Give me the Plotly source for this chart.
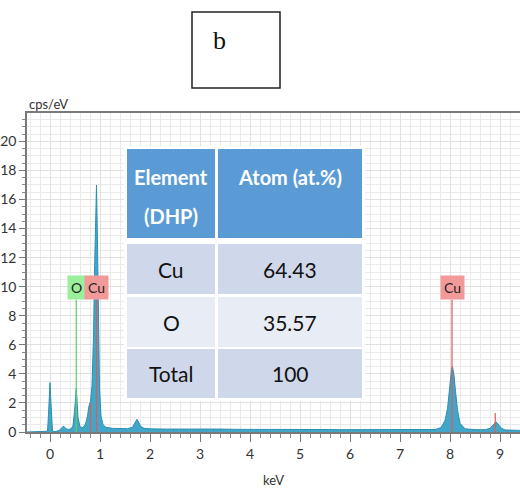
import plotly.graph_objects as go

# EDS spectrum (energy in keV, intensity in cps/eV)
energy_kev = [
    -0.46, -0.10, -0.05, -0.03, -0.01, 0.00, 0.01, 0.03, 0.05, 0.10,
    0.18, 0.24, 0.27, 0.30, 0.35, 0.42, 0.46, 0.49, 0.51, 0.525, 0.54,
    0.56, 0.60, 0.66, 0.71, 0.75, 0.78, 0.81, 0.84, 0.87, 0.89, 0.91,
    0.93, 0.95, 0.97, 0.99, 1.02, 1.06, 1.12, 1.25, 1.40, 1.55, 1.65,
    1.69, 1.72, 1.74, 1.77, 1.81, 1.88, 2.0, 2.3, 2.6, 3.0, 3.4, 3.8,
    4.2, 4.6, 5.0, 5.4, 5.8, 6.2, 6.6, 7.0, 7.4, 7.7, 7.82, 7.90, 7.95,
    7.99, 8.03, 8.05, 8.08, 8.11, 8.15, 8.20, 8.30, 8.50, 8.70, 8.80,
    8.85, 8.89, 8.92, 8.96, 9.02, 9.10, 9.25, 9.40,
]
counts_cps = [
    0.0, 0.0, 0.05, 1.2, 2.8, 3.4, 2.6, 1.0, 0.06, 0.02,
    0.10, 0.30, 0.42, 0.28, 0.18, 0.20, 0.45, 1.4, 2.4, 3.0, 2.2,
    1.0, 0.35, 0.30, 0.55, 1.1, 1.8, 2.1, 3.2, 6.5, 11.0, 15.5,
    17.0, 13.0, 7.0, 3.0, 1.1, 0.5, 0.32, 0.25, 0.24, 0.23, 0.32,
    0.55, 0.80, 0.88, 0.70, 0.40, 0.25, 0.22, 0.20, 0.21, 0.19, 0.20, 0.18,
    0.19, 0.17, 0.18, 0.17, 0.16, 0.17, 0.16, 0.16, 0.16, 0.17, 0.30, 0.80, 1.6,
    3.0, 4.3, 4.5, 3.9, 2.8, 1.5, 0.6, 0.22, 0.16, 0.16, 0.25,
    0.45, 0.65, 0.70, 0.55, 0.28, 0.14, 0.12, 0.11,
]

# Element marker lines
marker_energy = [0.525, 0.811, 0.930, 8.040, 8.905]
marker_top = [9.1, 2.0, 9.1, 9.1, 1.3]
marker_element = ["O", "Cu", "Cu", "Cu", "Cu"]
marker_labelled = [True, False, True, True, False]

# Composition table
table_header = ["Element<br>(DHP)", "Atom (at.%)"]
table_elements = ["Cu", "O", "Total"]
table_atoms = ["64.43", "35.57", "100"]

W, H = 520, 489
FONT = "Lato, Open Sans, sans-serif"

element_colors = {"O": ("#5fcf5f", "#9aef9a"), "Cu": ("#e05a5a", "#f29a9a")}


def px(x):
    return x / W


def py(y):
    return 1 - y / H


fig = go.Figure()

fig.add_trace(go.Scatter(
    x=energy_kev, y=counts_cps, mode="lines",
    line=dict(color="#2b8fb3", width=1),
    fill="tozeroy", fillcolor="#42a6c8",
    hoverinfo="skip", showlegend=False,
))

shapes = []
annotations = []
for e, top, el, lab in zip(marker_energy, marker_top, marker_element, marker_labelled):
    line_col, box_col = element_colors[el]
    shapes.append(dict(type="line", xref="x", yref="y", x0=e, x1=e, y0=0, y1=top,
                       line=dict(color=line_col, width=1.2), layer="above"))
    if lab:
        annotations.append(dict(x=e, y=top, xref="x", yref="y", text=el,
                                showarrow=False, yanchor="bottom", xanchor="center",
                                bgcolor=box_col, borderpad=3,
                                font=dict(family=FONT, size=14, color="#222")))

# Composition table drawn as cells over the plot
col_edges = [(127, 215), (218, 362)]
header_box = (149, 238)
header_line_y = [177, 216]
row_boxes = [(244, 294), (297, 347), (349, 398)]
row_fills = ["#cfd8ea", "#e8ecf5", "#cfd8ea"]

shapes.append(dict(type="rect", xref="paper", yref="paper", layer="above",
                   x0=px(124), x1=px(365), y0=py(401), y1=py(146),
                   line=dict(width=0), fillcolor="white"))

for (x0, x1), txt in zip(col_edges, table_header):
    shapes.append(dict(type="rect", xref="paper", yref="paper", layer="above",
                       x0=px(x0), x1=px(x1), y0=py(header_box[1]), y1=py(header_box[0]),
                       line=dict(width=0), fillcolor="#5b9bd5"))
    for line_txt, ly in zip(txt.split("<br>"), header_line_y):
        annotations.append(dict(x=px((x0 + x1) / 2), y=py(ly), xref="paper", yref="paper",
                                text=line_txt, showarrow=False, yanchor="middle",
                                xanchor="center",
                                font=dict(family=FONT, size=20, color="white",
                                          weight="bold")))

for (y0, y1), fill, el, at in zip(row_boxes, row_fills, table_elements, table_atoms):
    for (x0, x1), txt in zip(col_edges, [el, at]):
        shapes.append(dict(type="rect", xref="paper", yref="paper", layer="above",
                           x0=px(x0), x1=px(x1), y0=py(y1), y1=py(y0),
                           line=dict(width=0), fillcolor=fill))
        annotations.append(dict(x=px((x0 + x1) / 2), y=py((y0 + y1) / 2),
                                xref="paper", yref="paper", text=txt,
                                showarrow=False, yanchor="middle", xanchor="center",
                                font=dict(family=FONT, size=21, color="#111")))

# panel label box
shapes.append(dict(type="rect", xref="paper", yref="paper",
                   x0=px(192), x1=px(280), y0=py(88), y1=py(12),
                   line=dict(color="#222", width=1.5), fillcolor="white"))
annotations.append(dict(x=px(219), y=py(40), xref="paper", yref="paper",
                        text="b", showarrow=False, xanchor="center", yanchor="middle",
                        font=dict(family="Liberation Serif, serif", size=26, color="#111")))
annotations.append(dict(x=px(27), y=py(104), xref="paper", yref="paper",
                        text="cps/eV", showarrow=False, xanchor="left", yanchor="middle",
                        font=dict(family=FONT, size=13, color="#333")))

fig.update_layout(
    width=W, height=H, margin=dict(l=0, r=0, t=0, b=0, autoexpand=False),
    paper_bgcolor="white", plot_bgcolor="white",
    shapes=shapes, annotations=annotations,
    xaxis=dict(domain=[px(27), 1], range=[-0.46, 9.4], dtick=1, tick0=0,
               showgrid=True, gridcolor="#e0e0e0", zeroline=False,
               showline=True, linecolor="#7a7a7a", linewidth=2, mirror=True,
               ticks="outside", ticklen=8, tickcolor="#7a7a7a",
               minor=dict(dtick=0.2, tick0=0, ticks="outside", ticklen=4,
                          tickcolor="#8a8a8a", showgrid=True, gridcolor="#eaeaea"),
               tickfont=dict(family=FONT, size=14, color="#333"),
               title=dict(text="keV", font=dict(family=FONT, size=13, color="#333"))),
    yaxis=dict(domain=[py(432), py(113)], range=[0, 21.95], dtick=2, tick0=0,
               showgrid=True, gridcolor="#e0e0e0", zeroline=False,
               showline=True, linecolor="#7a7a7a", linewidth=1.5,
               ticks="outside", ticklen=6, tickcolor="#7a7a7a",
               minor=dict(dtick=0.5, tick0=0, ticks="outside", ticklen=3,
                          tickcolor="#8a8a8a", showgrid=True, gridcolor="#eaeaea"),
               tickfont=dict(family=FONT, size=14, color="#333")),
)

fig.write_html("out.html")
